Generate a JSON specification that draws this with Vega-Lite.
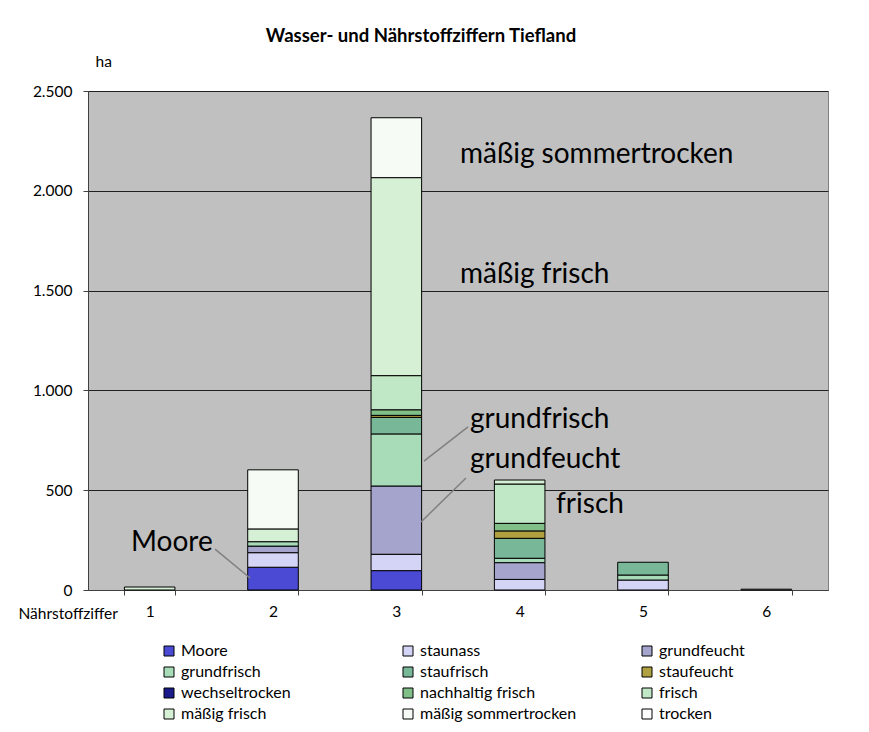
{
  "$schema": "https://vega.github.io/schema/vega-lite/v6.json",
  "autosize": "none",
  "width": 740,
  "height": 499,
  "padding": {"left": 88, "top": 91, "right": 41, "bottom": 142},
  "background": "white",
  "title": {"text": "Wasser- und Nährstoffziffern Tiefland", "fontSize": 18.5, "fontWeight": "bold", "font": "Lato", "anchor": "middle", "dx": -37, "offset": 9, "color": "black"},
  "config": {
    "font": "Lato",
    "view": {"fill": "#c0c0c0", "stroke": "#808080"}
  },
  "datasets": {
    "kinds": [
      {"k": "Moore", "i": 1},
      {"k": "staunass", "i": 2},
      {"k": "grundfeucht", "i": 3},
      {"k": "grundfrisch", "i": 4},
      {"k": "staufrisch", "i": 5},
      {"k": "staufeucht", "i": 6},
      {"k": "wechseltrocken", "i": 7},
      {"k": "nachhaltig frisch", "i": 8},
      {"k": "frisch", "i": 9},
      {"k": "mäßig frisch", "i": 10},
      {"k": "mäßig sommertrocken", "i": 11},
      {"k": "trocken", "i": 12}
    ],
    "bars": [
      {"n": "1", "k": "mäßig frisch", "ha": 15},
      {"n": "2", "k": "Moore", "ha": 114},
      {"n": "2", "k": "staunass", "ha": 73},
      {"n": "2", "k": "grundfeucht", "ha": 33},
      {"n": "2", "k": "grundfrisch", "ha": 22},
      {"n": "2", "k": "mäßig frisch", "ha": 64},
      {"n": "2", "k": "mäßig sommertrocken", "ha": 296},
      {"n": "3", "k": "Moore", "ha": 97},
      {"n": "3", "k": "staunass", "ha": 82},
      {"n": "3", "k": "grundfeucht", "ha": 342},
      {"n": "3", "k": "grundfrisch", "ha": 261},
      {"n": "3", "k": "staufrisch", "ha": 83},
      {"n": "3", "k": "staufeucht", "ha": 10},
      {"n": "3", "k": "nachhaltig frisch", "ha": 28},
      {"n": "3", "k": "frisch", "ha": 171},
      {"n": "3", "k": "mäßig frisch", "ha": 992},
      {"n": "3", "k": "mäßig sommertrocken", "ha": 300},
      {"n": "4", "k": "staunass", "ha": 53},
      {"n": "4", "k": "grundfeucht", "ha": 84},
      {"n": "4", "k": "grundfrisch", "ha": 22},
      {"n": "4", "k": "staufrisch", "ha": 100},
      {"n": "4", "k": "staufeucht", "ha": 37},
      {"n": "4", "k": "nachhaltig frisch", "ha": 38},
      {"n": "4", "k": "frisch", "ha": 197},
      {"n": "4", "k": "mäßig frisch", "ha": 20},
      {"n": "5", "k": "staunass", "ha": 50},
      {"n": "5", "k": "grundfrisch", "ha": 25},
      {"n": "5", "k": "staufrisch", "ha": 64},
      {"n": "6", "k": "trocken", "ha": 4}
    ],
    "notes": [
      {"x": 3.516, "y": 2179, "t": "mäßig sommertrocken"},
      {"x": 3.516, "y": 1578, "t": "mäßig frisch"},
      {"x": 3.597, "y": 852, "t": "grundfrisch"},
      {"x": 3.597, "y": 651, "t": "grundfeucht"},
      {"x": 4.295, "y": 426, "t": "frisch"},
      {"x": 0.849, "y": 235, "t": "Moore"}
    ],
    "leaders": [
      {"x": 1.53, "x2": 1.814, "y": 205, "y2": 60},
      {"x": 3.581, "x2": 3.224, "y": 817, "y2": 646},
      {"x": 3.565, "x2": 3.2, "y": 561, "y2": 341}
    ]
  },
  "layer": [
    {
      "data": {"name": "bars"},
      "transform": [
        {"lookup": "k", "from": {"data": {"name": "kinds"}, "key": "k", "fields": ["i"]}}
      ],
      "mark": {"type": "bar", "stroke": "black", "strokeWidth": 1},
      "encoding": {
        "x": {
          "field": "n", "type": "ordinal",
          "scale": {"paddingInner": 0.59, "paddingOuter": 0.295},
          "axis": {"title": "Nährstoffziffer", "labelAngle": 0, "labelFontSize": 15.5, "labelColor": "black", "tickBand": "extent", "tickSize": 5, "tickColor": "#404040", "domainColor": "#404040", "labelPadding": 9, "titleFontSize": 15.5, "titleFontWeight": "normal", "titleColor": "black", "titleX": -70, "titleY": 23, "titleAlign": "left", "titleBaseline": "middle"}
        },
        "y": {
          "field": "ha", "type": "quantitative", "stack": "zero",
          "scale": {"domain": [0, 2500], "nice": false},
          "title": "ha",
          "axis": {"values": [0, 500, 1000, 1500, 2000, 2500], "labelExpr": "replace(format(datum.value, ','), ',', '.')", "labelFontSize": 15.5, "labelColor": "black", "tickSize": 5, "tickColor": "#404040", "domainColor": "#404040", "labelPadding": 11, "gridColor": "#202020", "gridWidth": 1, "titleAngle": 0, "titleX": 7, "titleY": -30, "titleAlign": "left", "titleBaseline": "middle", "titleFontSize": 15.5, "titleFontWeight": "normal", "titleColor": "black"}
        },
        "order": {"field": "i", "type": "quantitative", "sort": "ascending"},
        "color": {
          "field": "k", "type": "nominal",
          "scale": {
            "domain": ["Moore", "staunass", "grundfeucht", "grundfrisch", "staufrisch", "staufeucht", "wechseltrocken", "nachhaltig frisch", "frisch", "mäßig frisch", "mäßig sommertrocken", "trocken"],
            "range": ["#4a4ad4", "#d4d4f6", "#a4a4cc", "#a8dcb8", "#78b898", "#b0a040", "#1a1a8a", "#80c088", "#c0e8c6", "#d6f0d6", "#f6fbf6", "#ffffff"]
          },
          "legend": {"title": null, "orient": "none", "legendX": 73, "legendY": 552, "direction": "horizontal", "columns": 3, "gridAlign": "all", "columnPadding": 62, "rowPadding": 5, "symbolType": "square", "symbolSize": 100, "symbolStrokeColor": "black", "symbolStrokeWidth": 1, "labelFontSize": 16, "labelColor": "black", "labelOffset": 4, "labelLimit": 300}
        }
      }
    },
    {
      "data": {"name": "notes"},
      "mark": {"type": "text", "fontSize": 28, "align": "left", "baseline": "middle", "color": "black"},
      "encoding": {
        "x": {"field": "x", "type": "quantitative", "scale": {"domain": [0.5, 6.5], "nice": false, "zero": false}, "axis": null},
        "y": {"field": "y", "type": "quantitative", "scale": {"domain": [0, 2500], "nice": false}, "title": "ha"},
        "text": {"field": "t"}
      }
    },
    {
      "data": {"name": "leaders"},
      "mark": {"type": "rule", "color": "#808080", "strokeWidth": 1.5},
      "encoding": {
        "x": {"field": "x", "type": "quantitative", "scale": {"domain": [0.5, 6.5], "nice": false, "zero": false}, "axis": null},
        "x2": {"field": "x2"},
        "y": {"field": "y", "type": "quantitative", "scale": {"domain": [0, 2500], "nice": false}, "title": "ha"},
        "y2": {"field": "y2"}
      }
    }
  ],
  "resolve": {"scale": {"x": "independent", "color": "independent"}}
}
